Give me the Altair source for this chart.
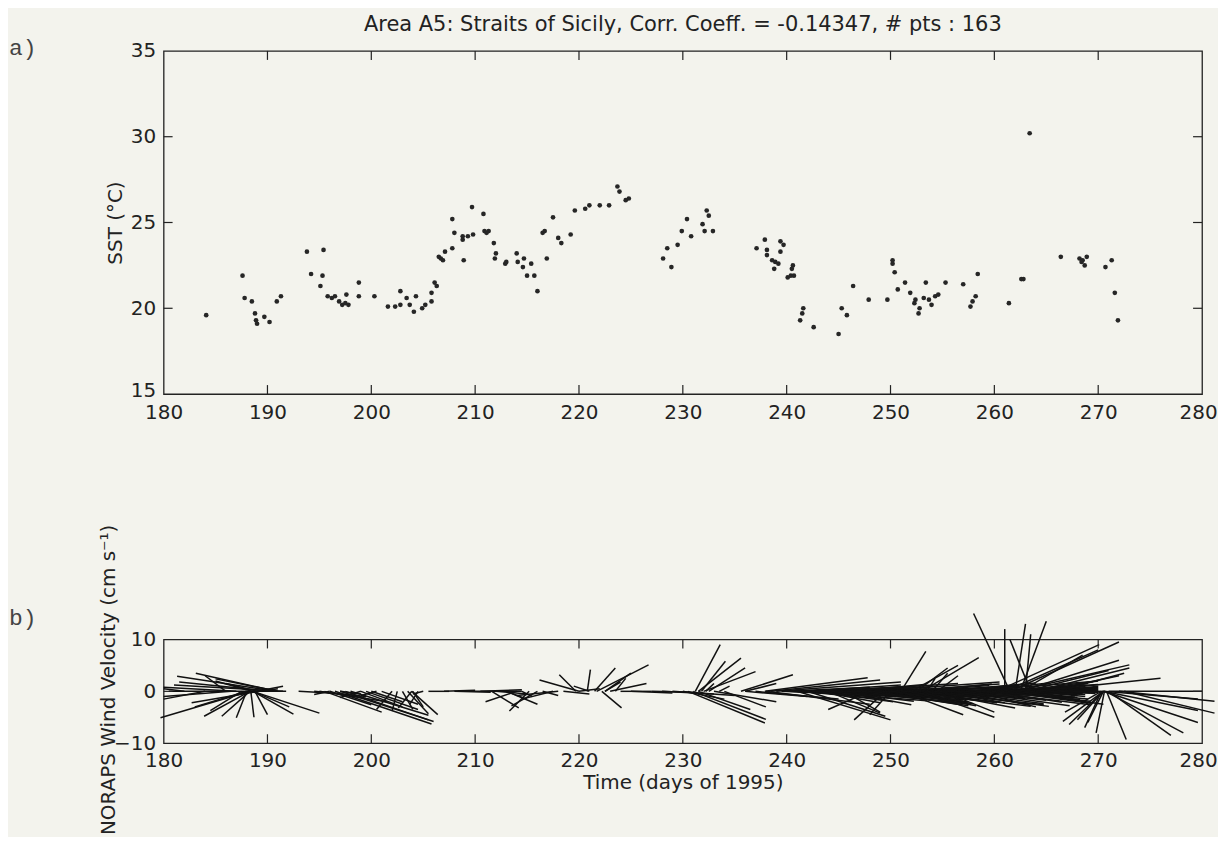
import altair as alt
import pandas as pd

# ---------------- data ----------------
sst_day = [184.1, 187.6, 187.8, 188.5, 188.8, 188.9, 189.0, 189.7, 190.2, 190.9, 191.3,
           193.8, 195.4, 194.2, 195.3, 195.1, 195.8, 196.2, 196.5, 196.9, 197.2, 197.5,
           197.8, 197.6, 198.8, 198.8, 200.3, 201.6, 202.3, 202.8, 202.8, 203.4, 203.7,
           204.1, 204.3, 204.9, 205.2, 205.8, 205.8, 206.1, 206.3, 206.5, 206.7, 206.9,
           207.1, 207.8, 207.8, 208.0, 208.9, 208.8, 208.8, 209.3, 209.8, 209.7, 210.8,
           210.9, 211.1, 211.3, 211.8, 212.0, 211.9, 212.9, 213.0, 214.0, 214.1, 214.7,
           214.6, 215.4, 215.0, 215.7, 216.0, 216.9, 216.5, 216.7, 217.5, 218.0, 218.3,
           219.2, 219.6, 220.6, 221.0, 222.0, 222.9, 223.7, 223.9, 224.5, 224.8, 228.1,
           228.5, 228.9, 229.5, 229.9, 230.4, 230.8, 231.9, 232.1, 232.3, 232.5, 232.9,
           237.1, 237.9, 238.1, 238.1, 239.4, 239.7, 239.4, 238.6, 238.9, 239.2, 238.8,
           240.6, 240.5, 240.1, 240.4, 240.7, 241.6, 241.5, 241.3, 242.6, 245.0, 245.3,
           245.8, 246.4, 247.9, 249.7, 250.2, 250.2, 250.4, 251.4, 250.7, 251.9, 252.4,
           252.3, 252.8, 252.7, 253.4, 253.2, 253.7, 253.95, 254.3, 254.6, 255.3, 257.0,
           258.4, 258.2, 257.9, 257.7, 261.4, 262.6, 262.8, 263.4, 266.4, 268.2, 268.5,
           268.9, 268.7, 268.4, 270.7, 271.3, 271.6, 271.9]
sst_val = [19.6, 21.9, 20.6, 20.4, 19.7, 19.3, 19.1, 19.5, 19.2, 20.4, 20.7,
           23.3, 23.4, 22.0, 21.9, 21.3, 20.7, 20.6, 20.7, 20.4, 20.2, 20.3,
           20.2, 20.8, 21.5, 20.7, 20.7, 20.1, 20.1, 20.2, 21.0, 20.6, 20.2,
           19.8, 20.7, 20.0, 20.2, 20.4, 20.9, 21.5, 21.3, 23.0, 22.9, 22.8,
           23.3, 23.5, 25.2, 24.4, 22.8, 24.2, 24.0, 24.2, 24.3, 25.9, 25.5,
           24.5, 24.4, 24.5, 23.8, 23.2, 22.9, 22.6, 22.7, 23.2, 22.7, 22.9,
           22.4, 22.6, 21.9, 21.9, 21.0, 22.9, 24.4, 24.5, 25.3, 24.1, 23.8,
           24.3, 25.7, 25.8, 26.0, 26.0, 26.0, 27.1, 26.8, 26.3, 26.4, 22.9,
           23.5, 22.4, 23.7, 24.5, 25.2, 24.2, 24.9, 24.5, 25.7, 25.4, 24.5,
           23.5, 24.0, 23.4, 23.1, 23.9, 23.7, 23.3, 22.8, 22.7, 22.6, 22.3,
           22.5, 22.3, 21.8, 21.9, 21.9, 20.0, 19.7, 19.3, 18.9, 18.5, 20.0,
           19.6, 21.3, 20.5, 20.5, 22.8, 22.6, 22.1, 21.5, 21.1, 20.9, 20.5,
           20.3, 20.0, 19.7, 21.5, 20.6, 20.5, 20.2, 20.7, 20.8, 21.5, 21.4,
           22.0, 20.7, 20.4, 20.1, 20.3, 21.7, 21.7, 30.2, 23.0, 22.9, 22.8,
           23.0, 22.5, 22.7, 22.4, 22.8, 20.9, 19.3]

# wind sticks: start day, stick extent along time axis (days), velocity component
stick_t = [190.9, 190.9, 191.8, 191.5, 190.5, 191.0, 188.3, 188.3, 188.3, 188.0, 188.4,
           188.6, 188.6, 188.6, 189.0, 188.5, 189.5, 187.0, 186.5, 188.0, 187.5, 188.8,
           186.0, 184.0, 182.0, 189.2, 189.0,
           194.5, 195.0, 195.5, 196.5, 197.0, 197.5, 198.0, 196.0, 199.0, 199.5, 200.0,
           201.0, 202.0, 202.5, 203.0, 203.5, 204.0, 204.5, 205.0, 205.5, 197.0, 199.0,
           200.5, 196.0, 193.0, 203.9, 203.9,
           207.0, 208.0, 209.5, 210.5, 212.0, 213.0, 211.6, 213.0, 214.5, 215.2, 216.0,
           217.5, 218.0, 216.5, 218.5, 214.0,
           219.7, 220.0, 220.8, 221.5, 221.7, 222.5, 223.0, 222.2, 222.5, 220.0, 224.0,
           225.0, 221.0, 223.5,
           231.2, 231.5, 231.8, 232.0, 232.5, 232.2, 230.5, 231.0, 231.5, 230.0, 229.0,
           228.0, 227.0, 233.0, 234.0, 235.6, 236.0, 237.9, 238.5, 239.0, 237.0, 238.0,
           236.0, 233.5,
           239.5, 240.0, 240.5, 241.0, 241.5, 242.0, 242.5, 243.0, 243.5, 244.0, 244.5,
           245.0, 245.5, 246.0, 246.5, 247.0, 247.5, 248.0, 248.5, 249.0, 249.5, 250.0,
           250.5, 251.0, 251.5, 252.0, 252.5, 253.0, 253.5, 254.0, 254.5, 255.0, 255.5,
           256.0, 256.5, 257.0, 257.5, 258.0, 258.5, 259.0, 259.5, 260.0, 260.5, 261.0,
           261.5, 262.0, 262.5, 263.0, 263.5, 264.0, 264.5, 265.0, 265.5, 266.0, 266.5,
           267.0, 268.0,
           240.25, 240.75, 241.25, 241.75, 242.25, 242.75, 243.25, 243.75, 244.25, 244.75,
           245.25, 245.75, 246.25, 246.75, 247.25, 247.75, 248.25, 248.75, 249.25, 249.75,
           250.25, 250.75, 251.25, 251.75, 252.25, 252.75, 253.25, 253.75, 254.25, 254.75,
           255.25, 255.75, 256.25, 256.75, 257.25, 257.75, 258.25, 258.75, 259.25, 259.75,
           260.25, 260.75, 261.25, 261.75, 262.25, 262.75, 263.25, 263.75, 264.25, 264.75,
           265.25, 265.75, 266.25, 266.75, 267.5,
           251.0, 253.0, 255.0, 244.0, 241.0, 242.0, 249.5, 250.0, 248.0, 245.5,
           251.0, 252.0, 252.5, 253.0, 254.0, 253.5, 254.5,
           261.5, 261.0, 262.0, 262.5, 263.5, 263.0, 260.2, 261.0, 261.5, 262.0, 262.5,
           263.0, 264.0, 265.0, 266.0, 264.0, 262.0, 262.5,
           270.5, 270.5, 270.5, 270.7, 271.0, 270.8, 270.5, 270.5, 270.3, 270.6, 271.0,
           272.0, 272.5, 270.5, 270.5, 270.3]
stick_dx = [-9.6, -7.8, -11.3, -10.5, -9.0, -6.0, -8.6, -4.4, -2.7, -1.0, 0.3,
            6.4, 3.9, 3.5, 2.5, -3.5, 1.5, -7.0, -6.5, -5.0, -3.0, 1.2,
            -2.0, -4.0, -2.0, -6.5, -3.0,
            5.0, 6.5, 5.5, 9.3, 9.0, 8.0, 7.5, 4.0, 4.0, 5.0, 3.0,
            3.5, -1.5, -0.5, 1.0, 2.0, 1.0, -0.8, -1.0, 2.0, 2.0, -2.0,
            -1.5, -1.5, 3.0, -1.3, 2.5,
            3.0, 3.5, 5.0, 4.0, 3.0, 2.0, 2.6, 3.0, 1.0, -1.9, -2.5,
            -3.0, -4.0, 1.5, 2.5, -3.0,
            -1.6, -3.8, 0.3, 2.0, 5.0, 2.5, 3.5, 1.9, 1.5, 2.0, 3.0,
            4.0, -1.5, 1.0,
            2.4, 4.1, 2.3, 5.0, 3.5, 0.8, 7.4, 7.0, 5.0, 4.0, 6.0,
            5.0, 4.0, 6.0, 4.0, 5.0, 3.0, 9.9, 10.5, 12.0, 8.0, 10.0,
            6.0, 1.0,
            6.0, 8.0, 10.0, 7.0, 12.0, 9.0, 11.0, 6.0, 10.0, 8.5, 12.0,
            7.0, 9.5, 11.0, 8.0, 10.5, 6.5, 12.5, 9.0, 7.5, 11.0, 8.0,
            10.0, 6.0, 9.5, 11.5, 7.0, 10.0, 8.5, 12.0, 6.5, 9.0, 11.0,
            7.5, 10.5, 8.0, 12.0, 6.0, 9.5, 11.0, 7.0, 10.0, 8.5, 6.5,
            9.0, 7.5, 5.5, 6.0, 5.0, 6.0, 4.0, 5.0, 4.5, 4.0, 3.5,
            3.0, 2.5,
            9.0, 11.0, 8.0, 10.5, 12.0, 7.5, 10.0, 11.5, 8.0, 9.5,
            12.0, 10.0, 7.0, 11.0, 9.0, 10.5, 8.5, 12.0, 9.5, 10.0,
            8.0, 11.5, 9.0, 10.0, 7.5, 12.0, 9.5, 8.0, 11.0, 10.0,
            7.0, 9.0, 11.5, 8.5, 10.0, 7.5, 9.0, 10.5, 8.0, 9.5,
            7.0, 8.5, 7.0, 6.5, 6.0, 6.5, 5.5, 5.0, 4.5, 5.0,
            4.0, 3.5, 3.5, 3.0, 2.5,
            6.0, 7.0, 5.0, 5.0, 9.0, 7.5, -3.0, -2.0, -4.0, 3.5,
            2.4, 4.5, 3.0, 5.5, 1.5, 0.8, 2.0,
            -3.5, 0.0, 1.0, 2.5, -2.0, 0.5, 9.9, 9.0, 10.5, 11.0, 9.5,
            8.0, 9.0, 7.0, 6.5, 12.0, 8.0, 6.0,
            9.1, 9.1, 9.1, 7.5, 6.0, 1.9, -1.5, -2.5, -3.5, -0.8, 9.0,
            9.2, 8.7, -3.9, -3.3, -1.6]
stick_v = [2.9, 3.5, 0.0, 1.2, 1.8, 2.4, -5.1, -4.8, -4.8, -5.1, -5.0,
           -4.2, -4.4, -3.0, 1.0, 2.0, 0.5, 0.8, -1.0, -3.0, -3.7, -4.5,
           3.0, -1.5, 0.5, -2.2, 1.5,
           -1.0, -2.0, -4.0, -6.3, -5.8, -5.5, -4.6, -2.6, -3.0, -3.5, -2.0,
           -2.5, -3.5, -3.8, -3.5, -4.3, -3.0, -2.5, -0.5, 0.0, -0.5, -1.2,
           -0.8, -0.6, -0.3, -3.2, -4.5,
           0.2, -0.2, 0.0, 0.3, -0.5, -1.5, -3.2, -2.5, -1.0, -3.8, -2.8,
           -1.5, -0.8, -0.8, -0.5, -2.0,
           3.2, 2.2, 4.2, 4.5, 5.1, 3.5, 1.5, -3.2, 1.8, 0.5, 0.0,
           -0.3, 1.0, 2.5,
           9.0, 6.4, 5.8, 3.8, 4.5, 1.5, -6.1, -5.4, -3.5, -1.5, -0.8,
           -0.5, -0.2, -2.0, -3.0, 3.2, 1.5, 2.6, 2.2, 1.8, -1.5, -2.5,
           -1.0, 1.0,
           -0.5, 0.8, -1.0, 0.3, -1.8, 1.2, -0.7, -2.2, 0.5, -1.3, 1.5,
           -2.6, 0.2, -1.6, 1.0, -2.0, -0.4, 1.8, -2.8, 0.6, -1.1, -2.4,
           1.4, -1.9, 0.0, -2.9, 1.1, -1.4, -3.2, 0.7, -2.2, 1.6, -0.9,
           -2.7, 0.4, -1.7, 1.9, -3.0, -0.6, 1.3, -2.1, 0.1, -1.5, 1.0,
           -2.5, 0.5, -1.2, 1.5, -0.5, 0.8, -0.3, 0.6, 1.0, -0.2, 0.4,
           0.2, 0.0,
           -0.3, 0.6, -1.5, 0.9, -0.9, -2.0, 1.1, -0.4, -1.9, 0.3,
           -2.3, -0.8, 1.3, -2.5, 0.0, -1.2, -2.6, 0.7, -1.8, -0.2,
           -2.8, 1.0, -2.2, -0.6, 1.4, -2.6, -1.0, 0.9, -2.9, -0.3,
           1.2, -2.4, -1.1, 0.5, -2.8, 1.6, -1.3, -2.6, 0.3, -1.9,
           0.8, -2.3, -0.5, 1.2, -1.6, 0.2, -1.0, 0.9, -0.6, 0.4,
           -0.3, 0.6, -0.4, 0.3, -0.2,
           -4.5, -5.0, -4.0, -4.2, -5.5, -4.8, -5.5, -4.5, -3.5, -4.0,
           7.7, 5.0, 4.5, 6.5, 3.5, 2.5, 3.0,
           15.0, 12.0, 13.0, 13.5, 10.0, 11.0, 9.0, 8.0, 9.5, 5.1, 6.0,
           4.0, 4.5, 3.0, 3.5, 2.5, 2.0, 7.0,
           -1.5, -3.7, -6.0, -8.0, -8.5, -9.3, -6.0, -5.5, -4.0, -8.0, 0.0,
           -1.9, -4.2, -5.8, -6.4, -7.0]

x_ticks = [180, 190, 200, 210, 220, 230, 240, 250, 260, 270, 280]
x_inner = [190, 200, 210, 220, 230, 240, 250, 260, 270]
sst_ticks = [15, 20, 25, 30, 35]
sst_inner = [20, 25, 30]
wind_ticks = [-10, 0, 10]
wind_inner = [0]
title_text = ["Area A5: Straits of Sicily, Corr. Coeff. = -0.14347, # pts : 163"]

# ---------------- chart ----------------
W = 1041
H1 = 344
H2 = 104
INK = "#222222"
FONT = "DejaVu Sans"
LFS = 20

xs = alt.Scale(domain=[180, 280], nice=False, zero=False)
ys1 = alt.Scale(domain=[15, 35], nice=False, zero=False)
ys2 = alt.Scale(domain=[-10, 10], nice=False, zero=False)

pts = pd.DataFrame({"day": sst_day, "sst": sst_val})
sticks = pd.DataFrame({"t": stick_t, "dx": stick_dx, "v": stick_v})
xin = pd.DataFrame({"xv": x_inner})
yin1 = pd.DataFrame({"yv": sst_inner})
yin2 = pd.DataFrame({"yv": wind_inner})


def make_x_axis(title, label_pad=8, title_pad=2):
    return alt.Axis(values=x_ticks, ticks=False, domain=False, grid=False,
                    labelPadding=label_pad, labelFontSize=LFS, labelFont=FONT,
                    labelColor=INK, labelFlush=False, format="d",
                    labelOffset=alt.expr("datum.value >= 280 ? -4 : 0"),
                    title=title, titleFont=FONT, titleFontSize=LFS,
                    titleFontWeight="normal", titleColor=INK, titlePadding=title_pad)


def make_y_axis(vals, title, extent, title_y=None):
    kw = dict(values=vals, ticks=False, domain=False, grid=False, labelPadding=8,
              labelFontSize=LFS, labelFont=FONT, labelColor=INK, labelFlush=False,
              format="d", title=title, titleFont=FONT, titleFontSize=LFS,
              labelOffset=alt.expr("datum.value == 15 ? -4 : 0"),
              titleFontWeight="normal", titleColor=INK, titlePadding=4,
              minExtent=extent, maxExtent=extent)
    if title_y is not None:
        kw["titleY"] = title_y
    return alt.Axis(**kw)


def inner_ticks(ydf, H, ys, xax, yax):
    tl = 9
    xt_b = alt.Chart(xin).mark_rule(color=INK, strokeWidth=1.2).encode(
        x=alt.X("xv:Q", scale=xs, axis=xax), y=alt.value(H), y2=alt.value(H - tl))
    xt_t = alt.Chart(xin).mark_rule(color=INK, strokeWidth=1.2).encode(
        x=alt.X("xv:Q", scale=xs, axis=xax), y=alt.value(0), y2=alt.value(tl))
    yt_l = alt.Chart(ydf).mark_rule(color=INK, strokeWidth=1.2).encode(
        y=alt.Y("yv:Q", scale=ys, axis=yax), x=alt.value(0), x2=alt.value(tl))
    yt_r = alt.Chart(ydf).mark_rule(color=INK, strokeWidth=1.2).encode(
        y=alt.Y("yv:Q", scale=ys, axis=yax), x=alt.value(W), x2=alt.value(W - tl))
    return [xt_b, xt_t, yt_l, yt_r]


def panel_label(txt, ypix):
    return alt.Chart(pd.DataFrame({"lab": [txt]})).mark_text(
        font="Liberation Mono", fontSize=23, align="left", baseline="middle",
        color="#444444").encode(x=alt.value(-155), y=alt.value(ypix), text="lab:N")


# --- top panel
xax1 = make_x_axis(None)
yax1 = make_y_axis(sst_ticks, "SST (°C)", 34)

points = alt.Chart(pts).mark_circle(size=22, color="#262626", opacity=1).encode(
    x=alt.X("day:Q", scale=xs, axis=xax1),
    y=alt.Y("sst:Q", scale=ys1, axis=yax1),
)

title_mark = alt.Chart(pd.DataFrame({"txt": title_text})).mark_text(
    font=FONT, fontSize=21, align="center", baseline="alphabetic", color=INK
).encode(x=alt.value(W / 2), y=alt.value(-20), text="txt:N")

top = alt.layer(
    points, *inner_ticks(yin1, H1, ys1, xax1, yax1), panel_label("a)", -3), title_mark
).properties(width=W, height=H1)

# --- bottom panel
xax2 = make_x_axis("Time (days of 1995)", label_pad=7, title_pad=2)
yax2 = make_y_axis(wind_ticks, "NORAPS Wind Velocity (cm s⁻¹)", 41, title_y=40)

stick_lines = alt.Chart(sticks).transform_calculate(
    end="datum.t + datum.dx", base="0"
).mark_rule(color="#111111", strokeWidth=1.5).encode(
    x=alt.X("t:Q", scale=xs, axis=xax2),
    x2="end:Q",
    y=alt.Y("base:Q", scale=ys2, axis=yax2),
    y2="v:Q",
)

bottom = alt.layer(
    stick_lines, *inner_ticks(yin2, H2, ys2, xax2, yax2), panel_label("b)", -21)
).properties(width=W, height=H2)

chart = alt.vconcat(top, bottom, spacing=246, bounds="flush").properties(
    padding={"left": 0, "top": 4, "right": 0, "bottom": 0},
    background="#f3f3ed",
).configure_view(stroke=INK, strokeWidth=1.3)

chart.save("out.html", embed_options={"renderer": "svg", "actions": False})
